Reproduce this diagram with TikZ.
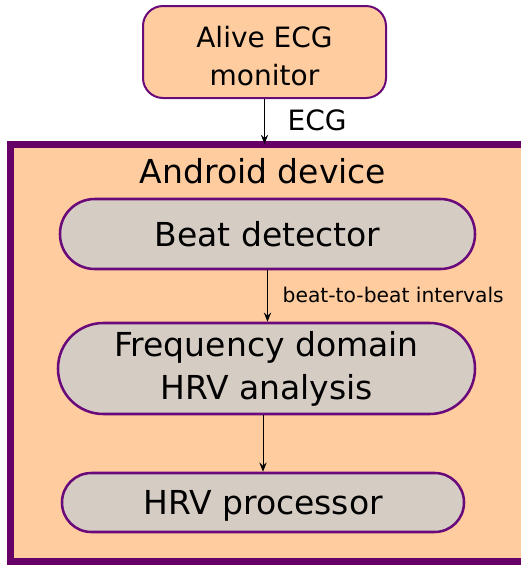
\documentclass[tikz,border=0pt]{standalone}
\usepackage{fontspec}
\setmainfont{DejaVu Sans}
\usetikzlibrary{calc,arrows.meta}

\definecolor{peach}{HTML}{FFCCA0}
\definecolor{stone}{HTML}{D5CCC4}
\definecolor{framepurple}{HTML}{660066}
\definecolor{edgepurple}{HTML}{6A0A7A}

\begin{document}
\begin{tikzpicture}[x=0.75pt, y=-0.75pt,
  big/.style={font=\fontsize{24.75}{32.25}\selectfont},
  mid/.style={font=\fontsize{21}{29}\selectfont},
  small/.style={font=\fontsize{15.2}{18}\selectfont},
  block/.style={draw=edgepurple, line width=1.9pt, fill=stone, align=center, inner sep=0pt, big},
  conn/.style={-{Stealth[length=7pt, width=5.5pt, inset=2.5pt]}, line width=0.75pt}]

\useasboundingbox (0,0) rectangle (521,565);
\clip (0,0) rectangle (521,565);

% device frame
\node[draw=framepurple, line width=5.25pt, fill=peach, inner sep=0pt, outer sep=0pt, minimum width=390pt, minimum height=312.75pt] (android) at (270,352.5) {};
\node[big, anchor=base] (title) at (263,183) {Android device};

% ECG monitor, text set a bit low in its box
\node[draw=edgepurple, line width=1.5pt, fill=peach, rounded corners=15pt, minimum width=182.25pt, minimum height=69pt] (alive) at (264.5,52) {};
\node[mid, align=center] (alivetext) at (264.5,56) {Alive ECG\\monitor};

\node[block, rounded corners=26pt, minimum width=311.25pt, minimum height=52.5pt] (beat) at (267.5,234) {Beat detector};
\node[block, rounded corners=34pt, minimum width=312.75pt, minimum height=68.25pt] (freq) at (266.5,368.5) {Frequency domain\\HRV analysis};
\node[block, rounded corners=22pt, minimum width=301.5pt, minimum height=44.25pt] (hrv) at (263,502.5) {};
\node[big, anchor=base] (hrvtext) at (263,514) {HRV processor};

\draw[conn] (alive.south) -- (alive.south |- android.north);
\node[mid, anchor=base west] (ecg) at (283,130) {ECG};

\draw[conn] (beat.south) -- (beat.south |- freq.north);
\node[small, anchor=base west] (rr) at (278,302) {beat-to-beat intervals};

\draw[conn] (hrv.north |- freq.south) -- (hrv.north);

\end{tikzpicture}
\end{document}
